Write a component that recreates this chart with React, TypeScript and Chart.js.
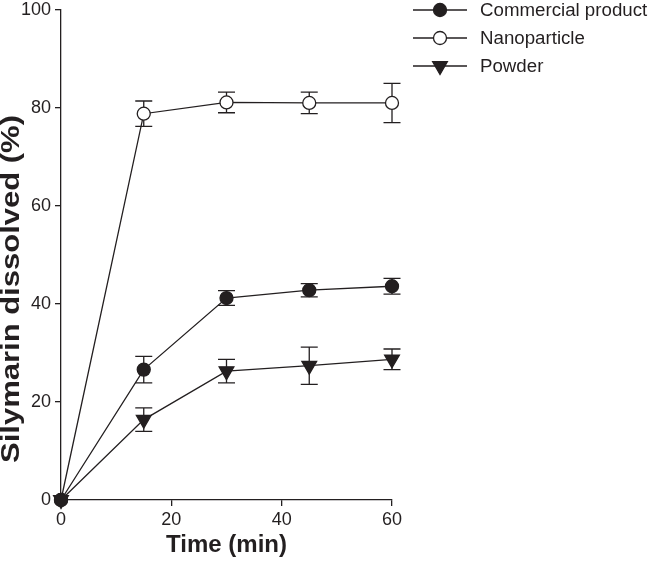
import React, { useEffect, useRef } from "react";
import { Chart, registerables } from "chart.js";
Chart.register(...registerables);

const times = [0, 15, 30, 45, 60];
const commercial = [0, 26.6, 41.2, 42.8, 43.6];
const commercialErr = [0, 2.7, 1.5, 1.35, 1.6];
const nano = [0, 78.8, 81.1, 81.0, 81.0];
const nanoErr = [0, 2.6, 2.1, 2.2, 4.0];
const powder = [0, 16.4, 26.3, 27.4, 28.7];
const powderErr = [0, 2.4, 2.4, 3.8, 2.1];
const seriesNames = ["Commercial product", "Nanoparticle", "Powder"];
const xTitle = "Time (min)";
const yTitle = "Silymarin dissolved (%)";

const INK = "#231f20";
const FONT = "'Liberation Sans', Arial, sans-serif";

const errors = [commercialErr, nanoErr, powderErr];

function drawMarker(ctx: CanvasRenderingContext2D, kind: string, x: number, y: number) {
  ctx.save();
  ctx.lineWidth = 1.3;
  ctx.strokeStyle = INK;
  if (kind === "tri") {
    const r = 8.5;
    ctx.beginPath();
    ctx.moveTo(x, y + r);
    ctx.lineTo(x - r * 0.866, y - r * 0.5);
    ctx.lineTo(x + r * 0.866, y - r * 0.5);
    ctx.closePath();
    ctx.fillStyle = INK;
    ctx.fill();
    ctx.stroke();
  } else {
    ctx.beginPath();
    ctx.arc(x, y, 6.5, 0, Math.PI * 2);
    ctx.fillStyle = kind === "open" ? "#ffffff" : INK;
    ctx.fill();
    ctx.stroke();
  }
  ctx.restore();
}

const errorBarPlugin = {
  id: "errorBars",
  beforeDatasetsDraw(chart: any) {
    const ctx = chart.ctx;
    const y = chart.scales.y;
    ctx.save();
    ctx.strokeStyle = INK;
    ctx.lineWidth = 1.3;
    chart.data.datasets.forEach((ds: any, di: number) => {
      const meta = chart.getDatasetMeta(di);
      meta.data.forEach((pt: any, i: number) => {
        const e = errors[di][i];
        if (!e) return;
        const v = ds.data[i].y;
        const yt = y.getPixelForValue(v + e);
        const yb = y.getPixelForValue(v - e);
        const x = pt.x;
        ctx.beginPath();
        ctx.moveTo(x, yt);
        ctx.lineTo(x, yb);
        ctx.moveTo(x - 8.5, yt);
        ctx.lineTo(x + 8.5, yt);
        ctx.moveTo(x - 8.5, yb);
        ctx.lineTo(x + 8.5, yb);
        ctx.stroke();
      });
    });
    ctx.restore();
  },
};

const legendPlugin = {
  id: "customLegend",
  afterDraw(chart: any) {
    const ctx = chart.ctx;
    const kinds = ["filled", "open", "tri"];
    const ys = [10, 38, 66];
    ctx.save();
    seriesNames.forEach((name, i) => {
      const yy = ys[i];
      ctx.strokeStyle = INK;
      ctx.lineWidth = 1.3;
      ctx.beginPath();
      ctx.moveTo(413, yy);
      ctx.lineTo(467, yy);
      ctx.stroke();
      drawMarker(ctx, kinds[i], 440, yy);
      ctx.fillStyle = INK;
      ctx.font = `18.7px ${FONT}`;
      ctx.textBaseline = "middle";
      ctx.textAlign = "left";
      ctx.fillText(name, 480, yy + 1);
    });
    ctx.restore();
  },
};

const yTitlePlugin = {
  id: "yTitleStretched",
  afterDraw(chart: any) {
    const ctx = chart.ctx;
    ctx.save();
    ctx.font = `bold 25px ${FONT}`;
    const w = ctx.measureText(yTitle).width;
    const sx = 348 / w;
    ctx.translate(19, 289);
    ctx.rotate(-Math.PI / 2);
    ctx.scale(sx, 1);
    ctx.fillStyle = INK;
    ctx.textAlign = "center";
    ctx.textBaseline = "alphabetic";
    ctx.fillText(yTitle, 0, 0);
    ctx.restore();
  },
};

export default function App() {
  const ref = useRef<HTMLCanvasElement>(null);
  useEffect(() => {
    if (!ref.current) return;
    const mk = (vals: number[]) => times.map((t, i) => ({ x: t, y: vals[i] }));
    const common = {
      borderColor: INK,
      borderWidth: 1.3,
      pointBorderColor: INK,
      pointBorderWidth: 1.3,
      clip: false as any,
      tension: 0,
    };
    const chart = new Chart(ref.current, {
      type: "line",
      data: {
        datasets: [
          { ...common, label: seriesNames[0], data: mk(commercial), pointStyle: "circle", pointRadius: 6.5, pointBackgroundColor: INK },
          { ...common, label: seriesNames[1], data: mk(nano), pointStyle: "circle", pointRadius: 6.5, pointBackgroundColor: "#ffffff" },
          { ...common, label: seriesNames[2], data: mk(powder), pointStyle: "triangle", pointRotation: 180, pointRadius: 8.5, pointBackgroundColor: INK },
        ],
      },
      options: {
        animation: false,
        responsive: true,
        maintainAspectRatio: false,
        layout: { padding: { top: 8, right: 257, left: 0, bottom: 0 } },
        plugins: { legend: { display: false }, tooltip: { enabled: false } },
        scales: {
          x: {
            type: "linear",
            min: 0,
            max: 60,
            afterFit: (s: any) => { s.height = 62; s.paddingRight = 0; s.paddingLeft = 0; },
            ticks: { stepSize: 20, color: INK, font: { family: FONT, size: 18 }, padding: 3 },
            grid: { drawOnChartArea: false, drawTicks: true, tickLength: 6, color: INK, lineWidth: 1.3 },
            border: { display: true, color: INK, width: 1.3 },
            title: { display: true, text: xTitle, color: INK, font: { family: FONT, size: 24, weight: "bold" }, padding: { top: 0, bottom: 2 } },
          },
          y: {
            type: "linear",
            min: 0,
            max: 100,
            afterFit: (s: any) => { s.width = 61; s.paddingTop = 0; s.paddingBottom = 0; },
            ticks: { stepSize: 20, color: INK, font: { family: FONT, size: 18 }, padding: 4 },
            grid: { drawOnChartArea: false, drawTicks: true, tickLength: 6, color: INK, lineWidth: 1.3 },
            border: { display: true, color: INK, width: 1.3 },
            title: { display: false, text: yTitle },
          },
        },
      },
      plugins: [errorBarPlugin, legendPlugin, yTitlePlugin],
    } as any);
    return () => chart.destroy();
  }, []);
  return (
    <div style={{ position: "absolute", left: 0, top: 0, width: 649, height: 562, background: "#fff" }}>
      <canvas ref={ref} />
    </div>
  );
}
